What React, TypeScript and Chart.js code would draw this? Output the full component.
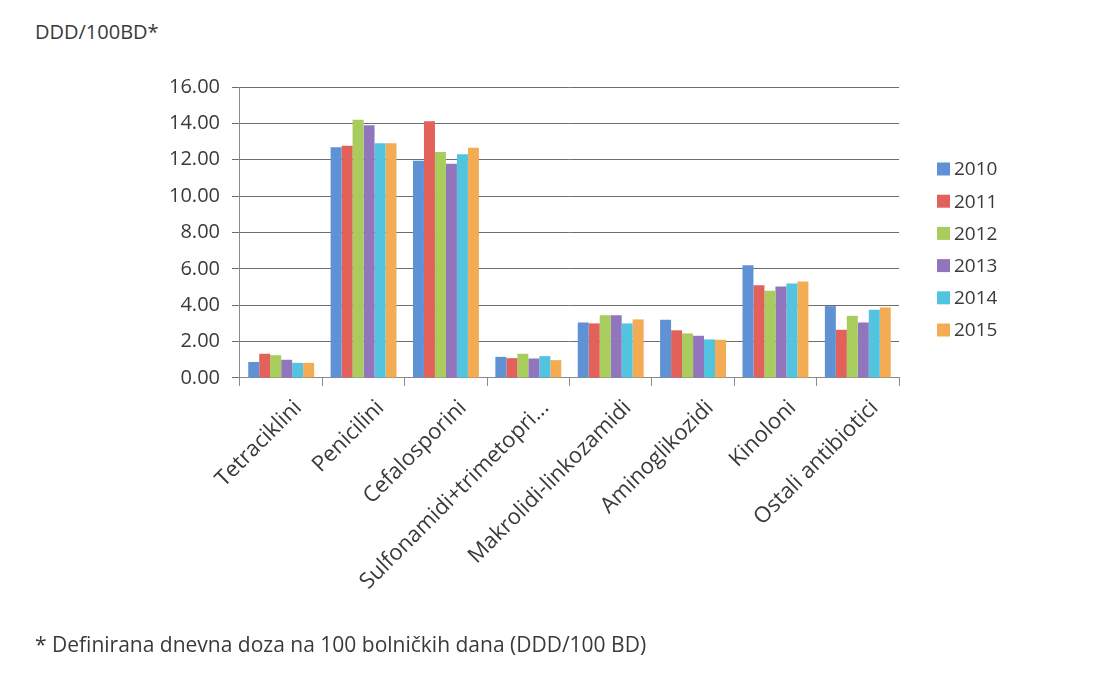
import React, { useEffect, useRef } from "react";
import { Chart, registerables } from "chart.js";

Chart.register(...registerables);

const categories = [
  "Tetraciklini",
  "Penicilini",
  "Cefalosporini",
  "Sulfonamidi+trimetopri...",
  "Makrolidi-linkozamidi",
  "Aminoglikozidi",
  "Kinoloni",
  "Ostali antibiotici",
];

const years = ["2010", "2011", "2012", "2013", "2014", "2015"];

const v2010 = [0.88, 12.68, 11.94, 1.16, 3.05, 3.2, 6.2, 3.95];
const v2011 = [1.33, 12.77, 14.12, 1.09, 3.0, 2.62, 5.1, 2.65];
const v2012 = [1.25, 14.2, 12.42, 1.33, 3.45, 2.45, 4.8, 3.42];
const v2013 = [1.0, 13.9, 11.78, 1.07, 3.45, 2.32, 5.03, 3.05];
const v2014 = [0.83, 12.9, 12.3, 1.2, 3.0, 2.12, 5.2, 3.75];
const v2015 = [0.83, 12.9, 12.66, 0.98, 3.22, 2.1, 5.3, 3.88];

const seriesValues = [v2010, v2011, v2012, v2013, v2014, v2015];
const seriesColors = ["#5e92d5", "#e2615a", "#a8cd5d", "#9276bd", "#52c4e0", "#f3ab54"];

const yTicks = [0, 2, 4, 6, 8, 10, 12, 14, 16];

const FONT = "'Open Sans', 'Noto Sans', sans-serif";

const legendPlugin = {
  id: "sideLegend",
  afterDraw(chart: any) {
    const ctx = chart.ctx;
    const ds = chart.data.datasets;
    const x0 = 937;
    const y0 = 169;
    const step = 32.2;
    ctx.save();
    ctx.font = `19px ${FONT}`;
    ctx.textBaseline = "middle";
    ctx.textAlign = "left";
    ds.forEach((d: any, i: number) => {
      const y = y0 + i * step;
      ctx.fillStyle = d.backgroundColor;
      ctx.fillRect(x0, y - 6.5, 13, 13);
      ctx.fillStyle = "#3a3a3a";
      ctx.fillText(d.label, x0 + 17, y + 1);
    });
    ctx.restore();
  },
};

export default function App() {
  const ref = useRef<HTMLCanvasElement | null>(null);
  useEffect(() => {
    if (!ref.current) return;
    const chart = new Chart(ref.current, {
      type: "bar",
      data: {
        labels: categories,
        datasets: years.map((y, i) => ({
          label: y,
          data: seriesValues[i],
          backgroundColor: seriesColors[i],
          borderWidth: 0,
          categoryPercentage: 0.8,
          barPercentage: 1.0,
        })),
      },
      options: {
        animation: false,
        responsive: false,
        maintainAspectRatio: false,
        layout: { padding: { top: 87, left: 157, right: 220, bottom: 71 } },
        plugins: {
          legend: { display: false },
          tooltip: { enabled: false },
          title: { display: false },
        },
        scales: {
          x: {
            grid: {
              display: true,
              offset: true,
              drawOnChartArea: false,
              drawTicks: true,
              tickLength: 8,
              color: "#8a8a8a",
            },
            border: { display: true, color: "#8a8a8a" },
            ticks: {
              maxRotation: 45,
              minRotation: 45,
              autoSkip: false,
              color: "#3a3a3a",
              font: { family: FONT, size: 22 },
              padding: 9,
              labelOffset: 17,
            },
          },
          y: {
            min: 0,
            max: 16,
            afterBuildTicks(axis: any) {
              axis.ticks = yTicks.map((v) => ({ value: v }));
            },
            grid: {
              color: "#6e6e6e",
              lineWidth: 1,
              tickLength: 8,
            },
            border: { display: true, color: "#8a8a8a" },
            ticks: {
              color: "#3a3a3a",
              font: { family: FONT, size: 20 },
              padding: 12,
              callback: (v: any) => Number(v).toFixed(2),
            },
          },
        },
      },
      plugins: [legendPlugin],
    });
    return () => chart.destroy();
  }, []);

  return (
    <div style={{ position: "absolute", left: 0, top: 0, width: 1119, height: 675, background: "#fff", fontFamily: FONT }}>
      <div style={{ position: "absolute", left: 35, top: 18, fontSize: 20, color: "#3a3a3a" }}>DDD/100BD*</div>
      <canvas ref={ref} width={1119} height={675} style={{ position: "absolute", left: 0, top: 0 }} />
      <div style={{ position: "absolute", left: 35, top: 630, fontSize: 21, color: "#3a3a3a" }}>
        * Definirana dnevna doza na 100 bolničkih dana (DDD/100 BD)
      </div>
    </div>
  );
}
